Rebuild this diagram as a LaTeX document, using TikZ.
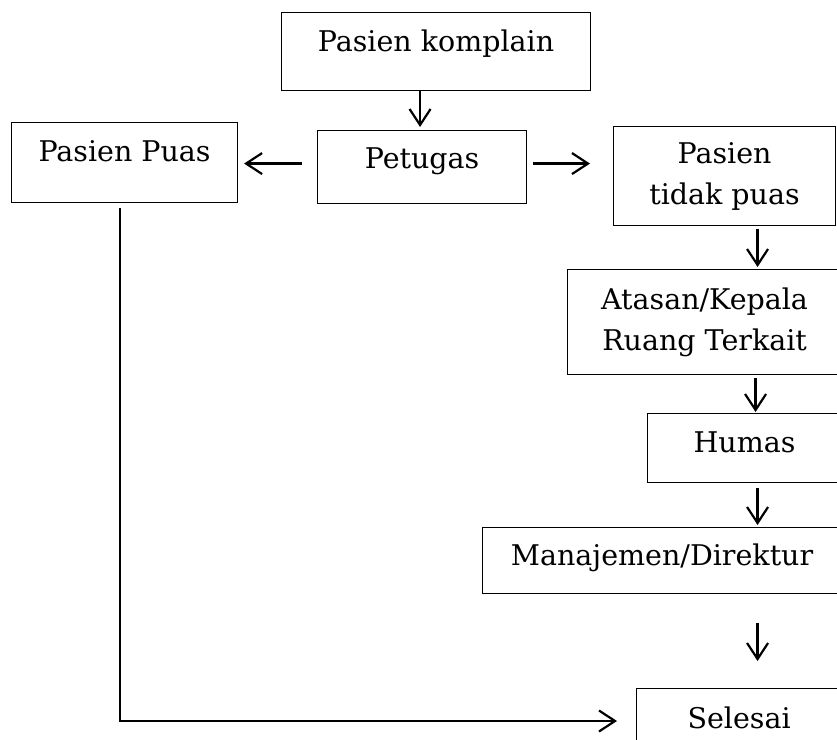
\documentclass[tikz,border=0pt]{standalone}
\usepackage{fontspec}
\setmainfont{DejaVu Serif}
\usetikzlibrary{arrows.meta}
\begin{document}
\begin{tikzpicture}[x=1pt,y=-1pt,
  box/.style={draw, line width=1.1pt, rectangle, anchor=north west, inner ysep=0pt, inner xsep=4pt,
    font=\fontsize{28.5}{41}\selectfont, align=center},
  conn/.style={line width=2.2pt, -{Straight Barb[length=16pt,width=21pt,line width=2.2pt]}}]
\useasboundingbox (0,0) rectangle (837,739);
\clip (0,0) rectangle (837,739);
\node[box, minimum width=309pt, text height=39pt, text depth=39pt] (komplain) at (281,12) {Pasien komplain};
\node[box, minimum width=209pt, text height=38pt, text depth=35pt] (petugas) at (317,130) {Petugas};
\node[box, minimum width=226pt, text height=39pt, text depth=41pt] (puas) at (11,122) {Pasien Puas};
\node[box, minimum width=222pt, minimum height=99pt] (tidak) at (613,126) {Pasien\\tidak puas};
\node[box, minimum width=274pt, minimum height=105pt] (atasan) at (567,269) {Atasan/Kepala\\Ruang Terkait};
\node[box, minimum width=194pt, text height=39pt, text depth=30pt] (humas) at (647,413) {Humas};
\node[box, minimum width=359pt, text height=38pt, text depth=28pt] (manajemen) at (482,527) {Manajemen/Direktur};
\node[box, minimum width=205pt, text height=40pt, text depth=42pt] (selesai) at (636,688) {Selesai};
\coordinate (corner) at (120,721);
\draw[conn, shorten >=3pt] ([xshift=-2pt]petugas.north |- komplain.south) -- ([xshift=-2pt]petugas.north);
\draw[conn, shorten <=15pt, shorten >=6pt] ([yshift=3.5pt]petugas.west) -- ([yshift=3.5pt]petugas.west -| puas.east);
\draw[conn, shorten <=6pt, shorten >=23pt] ([yshift=3.5pt]petugas.east) -- ([yshift=3.5pt]petugas.east -| tidak.west);
\draw[conn, shorten <=3pt, shorten >=2pt] ([xshift=33pt]tidak.south) -- ([xshift=33pt]tidak.south |- atasan.north);
\draw[conn, shorten <=3pt, shorten >=1pt] ([xshift=11pt]humas.north |- atasan.south) -- ([xshift=11pt]humas.north);
\draw[conn, shorten <=5pt, shorten >=2pt] ([xshift=13pt]humas.south) -- ([xshift=13pt]humas.south |- manajemen.north);
\draw[conn, shorten <=29pt, shorten >=27pt] ([xshift=13pt]humas.south |- manajemen.south) -- ([xshift=13pt]humas.south |- selesai.north);
\draw[conn, shorten <=5pt, shorten >=19pt] (corner |- puas.south) -- (corner) -- (corner -| selesai.west);
\end{tikzpicture}
\end{document}
